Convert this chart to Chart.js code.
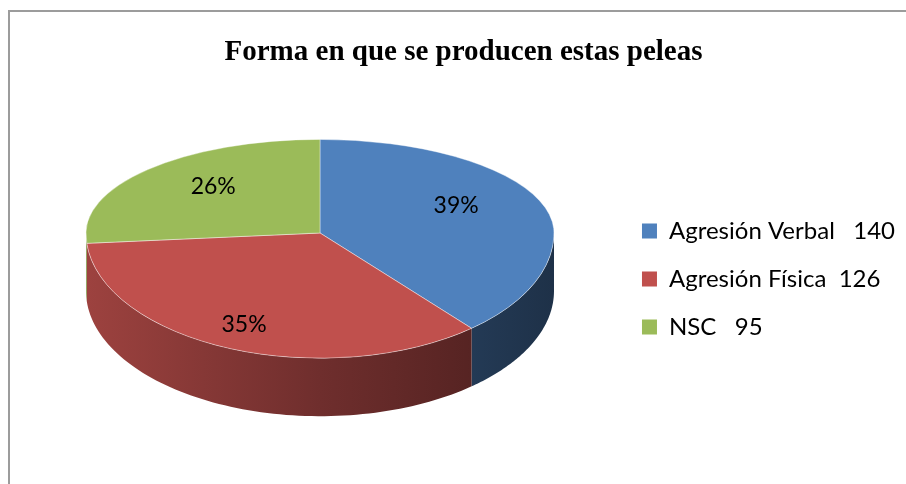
<!DOCTYPE html>
<html>
<head>
<meta charset="utf-8">
<script src="https://cdn.jsdelivr.net/npm/chart.js@4/dist/chart.umd.min.js"></script>
<style>
    html, body { margin: 0; padding: 0; background: #ffffff; }
    #frame {
        position: absolute; left: 8px; top: 10px; width: 1000px; height: 600px;
        border: 2px solid #9c9c9c; box-sizing: border-box;
    }
    #wrap { position: absolute; left: 0; top: 0; width: 906px; height: 484px; }
</style>
</head>
<body>
<div id="frame"></div>
<div id="wrap"><canvas id="pieChart" width="906" height="484"></canvas></div>
<script>
    // Chart data
    const categories = ['Agresión Verbal', 'Agresión Física', 'NSC'];
    const values = [140, 126, 95];
    const legendLabels = ['Agresión Verbal   140', 'Agresión Física  126', 'NSC   95'];
    const colors = ['#4F81BD', '#C0504D', '#9BBB59'];

    // Fake 3D look
    const backTilt = 0.40;   // far half of the top face
    const frontTilt = 0.535; // near half (perspective)
    const depth = 58;

    function shade(hex, f) {
        const n = parseInt(hex.slice(1), 16);
        const r = Math.round(((n >> 16) & 255) * f);
        const g = Math.round(((n >> 8) & 255) * f);
        const b = Math.round((n & 255) * f);
        return `rgb(${r}, ${g}, ${b})`;
    }

    const pie3d = {
        id: 'pie3d',
        beforeDatasetsDraw(chart) {
            const ctx = chart.ctx;
            const arcs = chart.getDatasetMeta(0).data;
            const { x: cx, y: cy, outerRadius: r } = arcs[0].getProps(['x', 'y', 'outerRadius'], true);

            // side walls of the front half
            arcs.forEach((arc, i) => {
                const { startAngle, endAngle } = arc.getProps(['startAngle', 'endAngle'], true);
                const a0 = Math.max(startAngle, 0);
                const a1 = Math.min(endAngle, Math.PI);
                if (a1 <= a0) return;
                const grad = ctx.createLinearGradient(cx - r, 0, cx + r, 0);
                grad.addColorStop(0, shade(colors[i], 0.82));
                grad.addColorStop(0.5, shade(colors[i], 0.58));
                grad.addColorStop(1, shade(colors[i], 0.38));
                ctx.beginPath();
                const steps = 80;
                for (let k = 0; k <= steps; k++) {
                    const a = a0 + (a1 - a0) * k / steps;
                    ctx.lineTo(cx + r * Math.cos(a), cy + r * frontTilt * Math.sin(a));
                }
                for (let k = steps; k >= 0; k--) {
                    const a = a0 + (a1 - a0) * k / steps;
                    ctx.lineTo(cx + r * Math.cos(a), cy + r * frontTilt * Math.sin(a) + depth);
                }
                ctx.closePath();
                ctx.fillStyle = grad;
                ctx.fill();
            });

            // top face, drawn in two halves with different tilt
            [[frontTilt, cy - 1, chart.height], [backTilt, 0, cy]].forEach(([s, y0, y1]) => {
                ctx.save();
                ctx.beginPath();
                ctx.rect(0, y0, chart.width, y1 - y0);
                ctx.clip();
                ctx.translate(cx, cy);
                ctx.scale(1, s);
                ctx.translate(-cx, -cy);
                arcs.forEach(a => a.draw(ctx));
                ctx.restore();
            });
            return false;
        },
        afterDraw(chart) {
            const ctx = chart.ctx;
            const arcs = chart.getDatasetMeta(0).data;
            const total = values.reduce((s, v) => s + v, 0);
            ctx.save();
            ctx.font = '23px Lato';
            ctx.fillStyle = '#000000';
            ctx.textAlign = 'center';
            ctx.textBaseline = 'middle';
            arcs.forEach((arc, i) => {
                const { x, y, startAngle, endAngle, outerRadius } =
                    arc.getProps(['x', 'y', 'startAngle', 'endAngle', 'outerRadius'], true);
                const mid = (startAngle + endAngle) / 2;
                const isBack = Math.sin(mid) < 0;
                // labels on the near half sit further out (perspective)
                const f = isBack ? 0.62 : 0.85;
                const s = isBack ? backTilt : frontTilt;
                const lx = x + Math.cos(mid) * outerRadius * f;
                const ly = y + Math.sin(mid) * outerRadius * f * s - 7;
                ctx.fillText(Math.round(values[i] / total * 100) + '%', lx, ly);
            });
            ctx.restore();
        }
    };

    const ctx = document.getElementById('pieChart').getContext('2d');
    new Chart(ctx, {
        type: 'pie',
        data: {
            labels: categories,
            datasets: [{
                data: values,
                backgroundColor: colors,
                borderColor: 'rgba(255, 255, 255, 0.55)',
                borderWidth: 1,
                radius: 234
            }]
        },
        options: {
            responsive: false,
            animation: false,
            layout: { padding: { left: 22, right: 1, top: 0, bottom: 97.8 } },
            plugins: {
                title: {
                    display: true,
                    text: 'Forma en que se producen estas peleas',
                    color: '#000000',
                    font: { family: 'Liberation Serif', size: 29, weight: 'bold' },
                    padding: { top: 35, bottom: 10 }
                },
                legend: {
                    position: 'right',
                    align: 'start',
                    title: { display: true, text: ' ', font: { size: 10 }, padding: { top: 183, bottom: 0 } },
                    labels: {
                        boxWidth: 15,
                        boxHeight: 15,
                        padding: 24,
                        color: '#000000',
                        font: { family: 'Lato', size: 24 },
                        generateLabels: () => legendLabels.map((t, i) => ({
                            text: t,
                            fillStyle: colors[i],
                            strokeStyle: colors[i],
                            fontColor: '#000000',
                            lineWidth: 0,
                            index: i
                        }))
                    }
                },
                tooltip: { enabled: false }
            }
        },
        plugins: [pie3d]
    });
</script>
</body>
</html>
